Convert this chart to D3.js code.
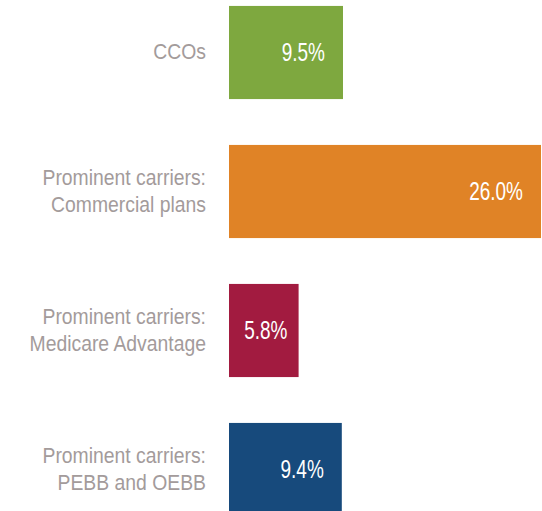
<!DOCTYPE html>
<html><head><meta charset="utf-8">
<script src="https://cdn.jsdelivr.net/npm/d3@7"></script>
<style>html,body{margin:0;padding:0;background:#fff;overflow:hidden}</style>
</head><body>
<svg id="c" width="542" height="511"></svg>
<script>
const categories = ["CCOs", "Prominent carriers: Commercial plans", "Prominent carriers: Medicare Advantage", "Prominent carriers: PEBB and OEBB"];
const labelLines = [["CCOs"], ["Prominent carriers:", "Commercial plans"], ["Prominent carriers:", "Medicare Advantage"], ["Prominent carriers:", "PEBB and OEBB"]];
const values = [9.5, 26.0, 5.8, 9.4];
const colors = ["#7ea83f", "#e08326", "#a21b40", "#174a7c"];

const svg = d3.select("#c");
const x = d3.scaleLinear().domain([0, 26]).range([229, 541]);
const y = d3.scaleBand().domain(categories).range([-17, 539]).paddingInner(0.33).paddingOuter(0.165);

const data = categories.map((c, i) => ({c, v: values[i], color: colors[i], lines: labelLines[i]}));

svg.selectAll("rect.bar").data(data).join("rect")
  .attr("class", "bar")
  .attr("x", x(0))
  .attr("y", d => y(d.c))
  .attr("width", d => x(d.v) - x(0))
  .attr("height", y.bandwidth())
  .attr("fill", d => d.color);

const font = "'Liberation Sans', Arial, sans-serif";
const sx = 0.76;

// value labels
svg.selectAll("g.val").data(data).join("g")
  .attr("class", "val")
  .each(function(d) {
    const g = d3.select(this);
    const t = g.append("text")
      .attr("text-anchor", "end")
      .attr("dominant-baseline", "central")
      .attr("font-family", font)
      .attr("font-size", 25)
      .attr("fill", "#ffffff")
      .text(d.v.toFixed(1) + "%");
    const w = t.node().getComputedTextLength() * sx;
    const bw = x(d.v) - x(0);
    const inset = Math.min(18, (bw - w) / 2 - 2);
    const ex = x(d.v) - inset;
    const cy = y(d.c) + y.bandwidth() / 2;
    g.attr("transform", `translate(${ex},${cy}) scale(${sx},1)`);
  });

// category labels
svg.selectAll("g.cat").data(data).join("g")
  .attr("class", "cat")
  .each(function(d) {
    const g = d3.select(this);
    const cy = y(d.c) + y.bandwidth() / 2;
    const lh = 27;
    const n = d.lines.length;
    g.attr("transform", `translate(206,${cy - 1}) scale(0.88,1)`);
    d.lines.forEach((ln, i) => {
      g.append("text")
        .attr("text-anchor", "end")
        .attr("dominant-baseline", "central")
        .attr("y", (i - (n - 1) / 2) * lh)
        .attr("font-family", font)
        .attr("font-size", 22)
        .attr("fill", "#a39b9b")
        .text(ln);
    });
  });
</script>
</body></html>
